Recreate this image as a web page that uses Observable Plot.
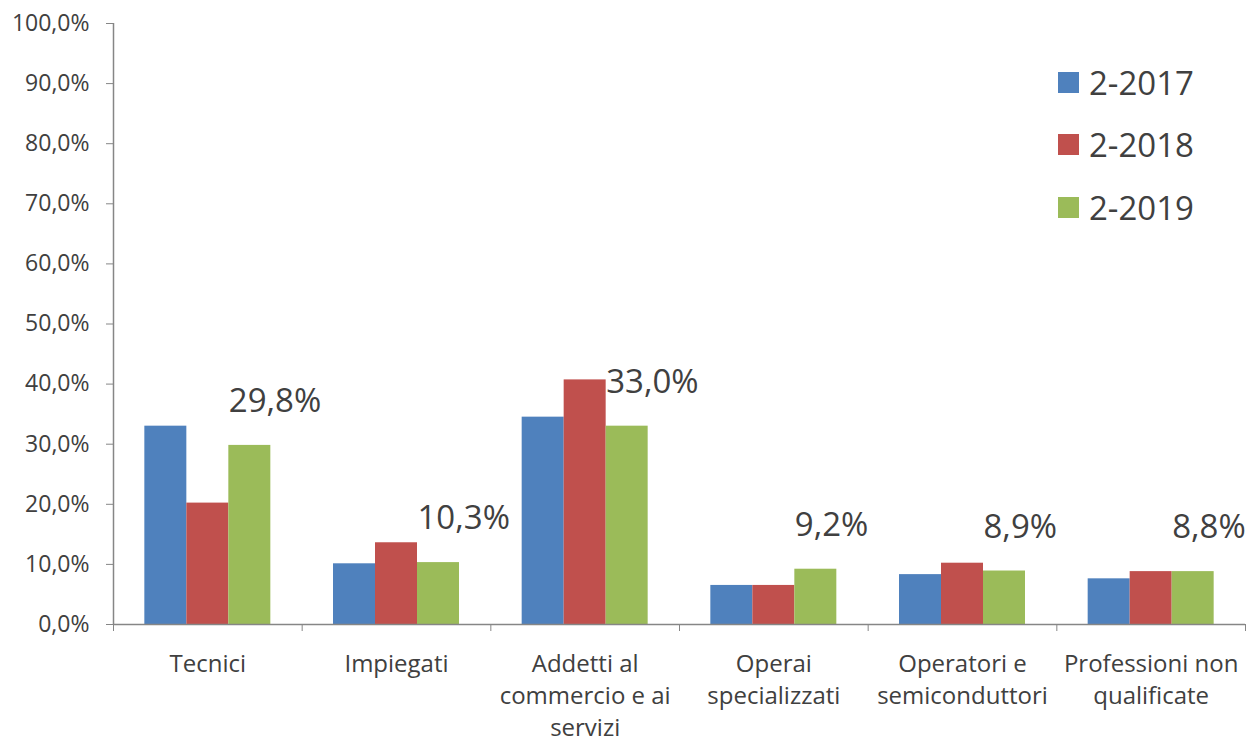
<!DOCTYPE html>
<html>
<head>
<meta charset="utf-8">
<script src="https://cdn.jsdelivr.net/npm/d3@7"></script>
<script src="https://cdn.jsdelivr.net/npm/@observablehq/plot@0.6"></script>
<style>
  html, body { margin: 0; padding: 0; background: #ffffff; }
  #wrap { position: relative; width: 1255px; height: 744px; font-family: "Open Sans", sans-serif; }
  #legend { position: absolute; left: 1058px; top: 51px; }
  .item { display: flex; align-items: center; height: 62.5px; }
  .sw { width: 21px; height: 21px; margin-right: 10px; }
  .lab { font-size: 33px; color: #404040; line-height: 1; }
</style>
</head>
<body>
<div id="wrap"><div id="legend"></div></div>
<script>
const categories = ["Tecnici", "Impiegati", "Addetti al\ncommercio e ai\nservizi", "Operai\nspecializzati", "Operatori e\nsemiconduttori", "Professioni non\nqualificate"];
const seriesNames = ["2-2017", "2-2018", "2-2019"];
const values2017 = [33.0, 10.1, 34.5, 6.5, 8.3, 7.6];
const values2018 = [20.2, 13.6, 40.7, 6.5, 10.2, 8.8];
const values2019 = [29.8, 10.3, 33.0, 9.2, 8.9, 8.8];
const colors = ["#4F81BD", "#C0504D", "#9BBB59"];
const yTicks = [0, 10, 20, 30, 40, 50, 60, 70, 80, 90, 100];

const seriesValues = [values2017, values2018, values2019];
const barShare = 0.2226;               // width of one bar as a share of a category slot
const gapShare = (1 - 3 * barShare) / 2;

const rows = [];
seriesValues.forEach((vals, s) => {
  vals.forEach((v, i) => {
    const x1 = i + gapShare + s * barShare;
    rows.push({series: seriesNames[s], cat: i, value: v, x1, x2: x1 + barShare});
  });
});
const labelRows = rows.filter(d => d.series === "2-2019");
const fmt = v => v.toFixed(1).replace(".", ",") + "%";

const plot = Plot.plot({
  width: 1255,
  height: 744,
  marginLeft: 113,
  marginRight: 10,
  marginTop: 23,
  marginBottom: 120,
  style: {fontFamily: "'Open Sans', sans-serif", background: "#ffffff"},
  x: {domain: [0, categories.length], axis: null},
  y: {domain: [0, 100], axis: null},
  color: {domain: seriesNames, range: colors},
  marks: [
    Plot.rectY(rows, {x1: "x1", x2: "x2", y1: 0, y2: "value", fill: "series"}),
    Plot.ruleX([0], {y1: 0, y2: 100, stroke: "#868686", strokeWidth: 1.5}),
    Plot.ruleY([0], {stroke: "#868686", strokeWidth: 1.5}),
    Plot.axisY({ticks: yTicks, tickSize: 7, tickPadding: 17, stroke: "#868686", fill: "#404040",
      fontSize: 23, tickFormat: fmt, label: null}),
    Plot.axisX({ticks: d3.range(0, categories.length + 1), tickSize: 7, stroke: "#868686", fill: "none", label: null}),
    Plot.axisX({ticks: d3.range(0, categories.length).map(i => i + 0.5), tickSize: 0, tickPadding: 25,
      fill: "#404040", fontSize: 24, lineHeight: 1.33, tickFormat: d => categories[Math.floor(d)], label: null}),
    Plot.text(labelRows, {x: "x1", y: "value", text: d => fmt(d.value), textAnchor: "start",
      dx: 0, dy: -44, fontSize: 33, fill: "#404040"})
  ]
});
const wrap = document.getElementById("wrap");
wrap.insertBefore(plot, wrap.firstChild);

const legend = d3.select("#legend");
seriesNames.forEach((name, s) => {
  const it = legend.append("div").attr("class", "item");
  it.append("div").attr("class", "sw").style("background", colors[s]);
  it.append("div").attr("class", "lab").text(name);
});
</script>
</body>
</html>
